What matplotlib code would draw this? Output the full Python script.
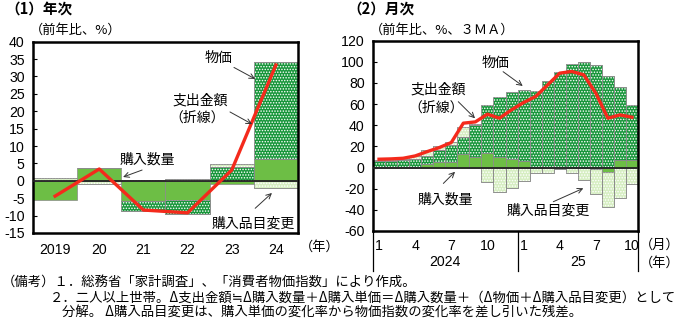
import numpy as np
import matplotlib
matplotlib.use('Agg')
import matplotlib.pyplot as plt
from matplotlib import font_manager as fm
from matplotlib.transforms import blended_transform_factory

names = {f.name for f in fm.fontManager.ttflist}
NUM = 'Liberation Sans Narrow' if 'Liberation Sans Narrow' in names else 'Liberation Sans'
JP = 'Noto Sans CJK JP'
plt.rcParams['font.family'] = [JP, 'DejaVu Sans']
plt.rcParams['hatch.linewidth'] = 0.7
plt.rcParams['axes.unicode_minus'] = False

# ---------------- data ----------------
# (1) annual
years = ['2019', '20', '21', '22', '23', '24']
y_qty = [-5.6, 3.8, -5.8, -5.6, -0.8, 6.2]
y_price = [0.0, 0.0, -2.9, -3.8, 4.0, 28.1]
y_item = [0.9, -0.8, 0.3, 0.5, 0.7, -2.2]
y_spend = [-4.4, 3.4, -8.4, -9.2, 3.1, 33.3]

# (2) monthly, Jan 2024 - Oct 2025
m_ticklabels = ['1', '4', '7', '10', '1', '4', '7', '10']
m_years = ['2024', '25']
m_qty = [0.3, 0.3, 0.5, 1.0, 3.8, 5.4, 5.5, 12.5, 10.4, 14.2, 10.4, 8.3,
         5.8, 0.3, 0.3, 0.2, -0.5, -0.8, -1.6, -3.8, 7.0, 7.0]
m_price = [6.2, 6.2, 6.5, 7.0, 6.9, 11.6, 15.5, 16.7, 30.0, 45.1, 56.2, 63.6,
           67.7, 71.7, 82.0, 89.8, 98.0, 100.3, 97.0, 86.5, 69.0, 52.5]
m_item = [0.8, 1.0, 1.0, 2.5, 5.5, 3.0, 3.5, 9.0, 1.0, -13.2, -22.7, -19.5,
          -12.6, -5.4, -4.7, -1.3, -4.9, -10.9, -23.4, -33.2, -29.0, -15.5]
m_spend = [7.9, 8.2, 8.8, 11.0, 15.1, 18.9, 23.7, 42.0, 43.2, 50.5, 46.7, 54.6,
           61.5, 67.2, 78.2, 89.3, 90.9, 87.7, 70.3, 46.7, 49.8, 47.6]

# ---------------- styles ----------------
C_QTY = '#6DBE45'
C_PRICE = '#17963A'
C_ITEM = '#D6EEC2'
C_EDGE = '#8a8a8a'
C_LINE = '#F42A1C'
HATCH = '......'

W, H = 683, 322
fig = plt.figure(figsize=(W / 100, H / 100), dpi=100)


def px_axes(x0, y0, x1, y1):
    return fig.add_axes([x0 / W, 1 - y1 / H, (x1 - x0) / W, (y1 - y0) / H])


def draw_stack(ax, x, series):
    pos = np.zeros(len(x))
    neg = np.zeros(len(x))
    for vals, face, hatch in series:
        v = np.asarray(vals, dtype=float)
        bottom = np.where(v >= 0, pos, neg)
        ax.bar(x, v, bottom=bottom, width=1.0, color=face, edgecolor=C_EDGE,
               linewidth=0.5, zorder=2)
        if hatch:
            ax.bar(x, v, bottom=bottom, width=1.0, facecolor='none',
                   edgecolor='white', hatch=hatch, linewidth=0, zorder=2.1)
            ax.bar(x, v, bottom=bottom, width=1.0, facecolor='none',
                   edgecolor=C_EDGE, linewidth=0.5, zorder=2.2)
        pos += np.clip(v, 0, None)
        neg += np.clip(v, None, 0)


def style_axes(ax):
    for s in ax.spines.values():
        s.set_linewidth(1.8)
        s.set_color('black')
    ax.tick_params(axis='y', direction='in', length=3, width=0.8,
                   labelsize=10.2)
    ax.tick_params(axis='x', length=0, labelsize=10.2)
    for lab in ax.get_yticklabels() + ax.get_xticklabels():
        lab.set_fontfamily([NUM, 'DejaVu Sans'])


def arrow(ax, xy_from, xy_to):
    ax.annotate('', xy=xy_to, xytext=xy_from,
                arrowprops=dict(arrowstyle='->', color='#333333', lw=0.7,
                                shrinkA=0, shrinkB=0, mutation_scale=9),
                zorder=6)


series_style = lambda q, p, i: [(q, C_QTY, None), (p, C_PRICE, HATCH),
                                (i, C_ITEM, HATCH)]

fs = 10

# ---------------- (1) annual ----------------
ax1 = px_axes(33, 41.7, 298, 233)
x1 = np.arange(len(years))
draw_stack(ax1, x1, series_style(y_qty, y_price, y_item))
ax1.axhline(0, color='#222222', lw=1.3, zorder=3)
ax1.plot(x1, y_spend, color=C_LINE, lw=2.4, zorder=5)
ax1.set_xlim(-0.5, len(years) - 0.5)
ax1.set_ylim(-15, 40)
ax1.set_yticks(np.arange(-15, 41, 5))
ax1.set_xticks(x1)
ax1.set_xticklabels(years)
style_axes(ax1)
ax1.tick_params(axis='y', pad=6)
ax1.tick_params(axis='x', pad=7)

ax1.text(3.69, 35.3, '物価', ha='center', va='center', fontsize=fs, zorder=7)
arrow(ax1, (4.05, 32.6), (4.53, 29.3))
ax1.text(3.28, 23.2, '支出金額', ha='center', va='center', fontsize=fs, zorder=7)
ax1.text(3.22, 18.1, '（折線）', ha='center', va='center', fontsize=fs, zorder=7)
arrow(ax1, (3.96, 19.8), (4.46, 16.3))
ax1.text(2.08, 6.0, '購入数量', ha='center', va='center', fontsize=fs, zorder=7)
arrow(ax1, (1.97, 3.1), (1.54, 1.1))
ax1.text(4.48, -12.3, '購入品目変更', ha='center', va='center', fontsize=fs,
         zorder=7)
arrow(ax1, (4.53, -7.9), (4.91, -3.5))

fig.text(5 / W, 1 - 9 / H, '（1）年次', fontsize=10.5, fontweight='bold',
         va='center', ha='left')
fig.text(30 / W, 1 - 30 / H, '（前年比、%）', fontsize=9.5, va='center',
         ha='left')
fig.text(300 / W, 1 - 247 / H, '（年）', fontsize=9.5, va='center', ha='left')

# ---------------- (2) monthly ----------------
ax2 = px_axes(373, 40.7, 638, 231)
x2 = np.arange(len(m_qty))
draw_stack(ax2, x2, series_style(m_qty, m_price, m_item))
ax2.axhline(0, color='#222222', lw=1.3, zorder=3)
ax2.plot(x2, m_spend, color=C_LINE, lw=2.4, zorder=5)
ax2.set_xlim(-0.5, len(m_qty) - 0.5)
ax2.set_ylim(-60, 120)
ax2.set_yticks(np.arange(-60, 121, 20))
ax2.set_xticks(np.arange(0, len(m_qty), 3))
ax2.set_xticklabels(m_ticklabels)
style_axes(ax2)
ax2.tick_params(axis='y', pad=6)
ax2.tick_params(axis='x', pad=6)

tr = blended_transform_factory(ax2.transData, ax2.transAxes)
for xs in (-0.5, 11.5, len(m_qty) - 0.5):
    ax2.plot([xs, xs], [0, -0.21], transform=tr, color='black', lw=0.9,
             clip_on=False)
ax2.text(5.5, -0.165, m_years[0], transform=tr, ha='center', va='center',
         fontsize=10.2, fontfamily=[NUM, 'DejaVu Sans'])
ax2.text(16.5, -0.165, m_years[1], transform=tr, ha='center', va='center',
         fontsize=10.2, fontfamily=[NUM, 'DejaVu Sans'])

ax2.text(9.63, 98.6, '物価', ha='center', va='center', fontsize=fs, zorder=7)
arrow(ax2, (10.3, 90.7), (11.93, 77.2))
ax2.text(4.92, 73.4, '支出金額', ha='center', va='center', fontsize=fs, zorder=7)
ax2.text(4.75, 57.0, '（折線）', ha='center', va='center', fontsize=fs, zorder=7)
arrow(ax2, (6.58, 62.3), (7.97, 46.6))
ax2.text(5.48, -30.0, '購入数量', ha='center', va='center', fontsize=fs, zorder=7)
arrow(ax2, (5.34, -15.0), (6.31, -4.0))
ax2.text(14.05, -40.2, '購入品目変更', ha='center', va='center', fontsize=fs,
         zorder=7)
arrow(ax2, (14.47, -32.3), (16.96, -19.6))

fig.text(347 / W, 1 - 9 / H, '（2）月次', fontsize=10.5, fontweight='bold',
         va='center', ha='left')
fig.text(370 / W, 1 - 30 / H, '（前年比、%、３ＭＡ）', fontsize=9.5,
         va='center', ha='left')
fig.text(640 / W, 1 - 245 / H, '（月）', fontsize=9.5, va='center', ha='left')
fig.text(640 / W, 1 - 263 / H, '（年）', fontsize=9.5, va='center', ha='left')

# ---------------- notes ----------------
nfs = 9.6
fig.text(2 / W, 1 - 282 / H,
         '（備考）１．総務省「家計調査」、「消費者物価指数」により作成。',
         fontsize=nfs, va='center', ha='left')
fig.text(50 / W, 1 - 297.5 / H,
         '２．二人以上世帯。Δ支出金額≒Δ購入数量＋Δ購入単価＝Δ購入数量＋（Δ物価＋Δ購入品目変更）として',
         fontsize=nfs, va='center', ha='left')
fig.text(62 / W, 1 - 313 / H,
         '分解。 Δ購入品目変更は、購入単価の変化率から物価指数の変化率を差し引いた残差。',
         fontsize=nfs, va='center', ha='left')

fig.savefig('out.png', dpi=100)
